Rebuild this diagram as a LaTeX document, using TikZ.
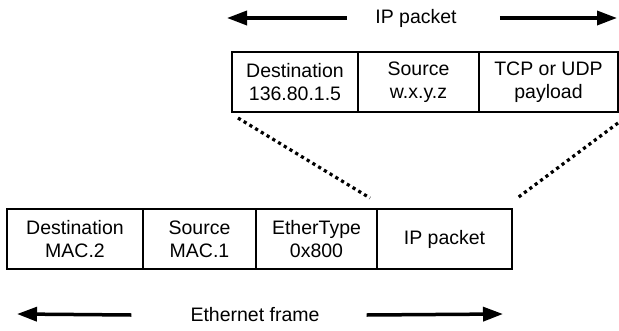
\documentclass[tikz,border=0pt]{standalone}
\usepackage{fontspec}
\setmainfont{Liberation Sans}
\usetikzlibrary{arrows.meta, positioning}
\tikzset{
  field/.style={
    rectangle, draw=black, line width=1.2pt, outer sep=0pt, inner sep=0pt,
    minimum height=60pt, align=center, font=\fontsize{19.5}{23}\selectfont
  },
  spanlabel/.style={inner sep=0pt, font=\fontsize{19.5}{23}\selectfont},
  spanarrow/.style={-{Triangle[length=20pt, width=14pt]}, line width=3.5pt},
  zoomline/.style={line width=3.2pt, dash pattern=on 3.2pt off 3.5pt}
}
\begin{document}
\begin{tikzpicture}[x=1pt, y=-1pt, node distance=0pt]
  \useasboundingbox (0,0) rectangle (619,330);

  % IP packet
  \node[field, minimum width=126pt, anchor=north west] (ipDst) at (232,52)
    {Destination\\136.80.1.5};
  \node[field, minimum width=121pt, right=of ipDst] (ipSrc) {Source\\w.x.y.z};
  \node[field, minimum width=139pt, right=of ipSrc] (ipPay) {TCP or UDP\\payload};

  % Ethernet frame
  \node[field, minimum width=136pt, anchor=north west] (ethDst) at (7,209)
    {Destination\\MAC.2};
  \node[field, minimum width=113pt, right=of ethDst] (ethSrc) {Source\\MAC.1};
  \node[field, minimum width=121pt, right=of ethSrc] (ethType) {EtherType\\0x800};
  \node[field, minimum width=135pt, right=of ethType] (ethIP) {IP packet};

  % span labels
  \node[spanlabel] (ipLabel) at (416,18) {IP packet};
  \coordinate (ipLeft) at (227,18);
  \coordinate (ipRight) at (617,18);
  \draw[spanarrow] ([xshift=-28pt]ipLabel.west) -- (ipLeft);
  \draw[spanarrow] ([xshift=43pt]ipLabel.east) -- (ipRight);

  \node[spanlabel] (ethLabel) at (255,315) {Ethernet frame};
  \coordinate (ethLeft) at (17,314);
  \coordinate (ethRight) at (503,314);
  \draw[spanarrow] ([xshift=-59pt]ethLabel.west) -- (ethLeft);
  \draw[spanarrow] ([xshift=47pt]ethLabel.east) -- (ethRight);

  % zoom lines
  \draw[zoomline] ([shift={(6,6)}]ipDst.south west) -- ([shift={(-7,-11)}]ethIP.north west);
  \draw[zoomline] ([shift={(0,11)}]ipPay.south east) -- ([shift={(4,-10)}]ethIP.north east);
\end{tikzpicture}
\end{document}
